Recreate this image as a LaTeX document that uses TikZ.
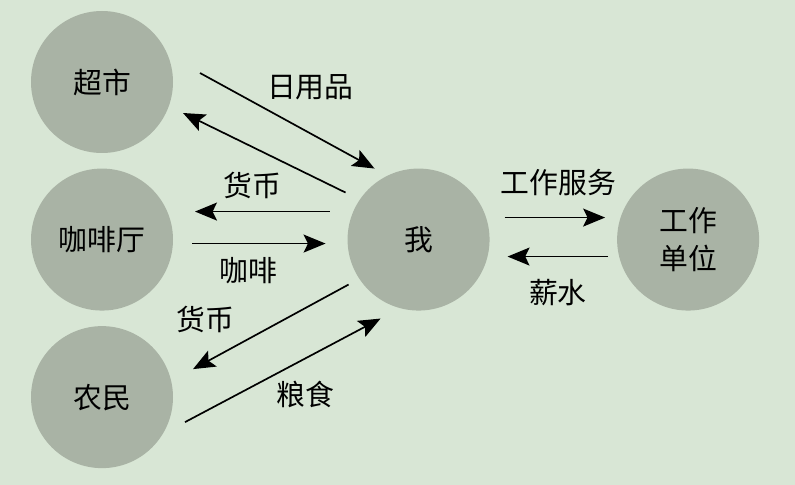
\documentclass[tikz,border=0pt]{standalone}
\usepackage{fontspec}
\setmainfont{Noto Sans CJK SC}
\usepackage{tikz}
\usetikzlibrary{arrows.meta,positioning,calc}

\definecolor{bggreen}{RGB}{216,230,213}
\definecolor{circgray}{RGB}{169,179,165}

\begin{document}
\begin{tikzpicture}[
    party/.style={circle, fill=circgray, minimum size=3.55cm, inner sep=0pt, align=center,
                  font=\fontsize{20.5pt}{27.7pt}\selectfont},
    flow/.style={-{Stealth[length=0.55cm, width=0.45cm, inset=0.11cm]}, line width=1.2pt},
    lbl/.style={font=\fontsize{20.5pt}{24pt}\selectfont, inner sep=0pt}
  ]
    \fill[bggreen] (0,0) rectangle (19.875,-12.125);
    \useasboundingbox (0,0) rectangle (19.875,-12.125);

    \node[party] (chaoshi) at (2.55,-2.05) {超市};
    \node[party, below=0.375cm of chaoshi] (kafeiting) {咖啡厅};
    \node[party, below=0.375cm of kafeiting] (nongmin) {农民};
    \node[party, right=4.35cm of kafeiting] (wo) {我};
    \node[party, right=3.175cm of wo] (danwei) {工作\\单位};

    % 超市
    \draw[flow] ($(chaoshi)+(2.45,0.225)$) -- node[lbl, midway, shift={(0.575,0.84)}]{日用品} ($(wo)+(-1.1,1.775)$);
    \draw[flow] ($(wo)+(-1.825,1.175)$) -- ($(chaoshi)+(2.025,-0.775)$);
    % 咖啡厅
    \draw[flow] ($(wo)+(-2.225,0.7)$) -- node[lbl, midway, shift={(-0.24,0.65)}]{货币} ($(kafeiting)+(2.325,0.7)$);
    \draw[flow] ($(kafeiting)+(2.25,-0.1)$) -- node[lbl, midway, shift={(-0.26,-0.675)}]{咖啡} ($(wo)+(-2.325,-0.1)$);
    % 农民
    \draw[flow] ($(wo)+(-1.75,-1.125)$) -- node[lbl, midway, shift={(-1.625,0.175)}]{货币} ($(nongmin)+(2.275,0.7)$);
    \draw[flow] ($(nongmin)+(2.075,-0.625)$) -- node[lbl, midway, shift={(0.5625,-0.6125)}]{粮食} ($(wo)+(-0.95,-1.975)$);
    % 工作单位
    \draw[flow] ($(wo)+(2.15,0.55)$) -- node[lbl, midway, shift={(0.0875,0.875)}]{工作服务} ($(danwei)+(-2.075,0.55)$);
    \draw[flow] ($(danwei)+(-2.0,-0.425)$) -- node[lbl, midway, shift={(0,-0.9)}]{薪水} ($(wo)+(2.225,-0.425)$);
\end{tikzpicture}
\end{document}
